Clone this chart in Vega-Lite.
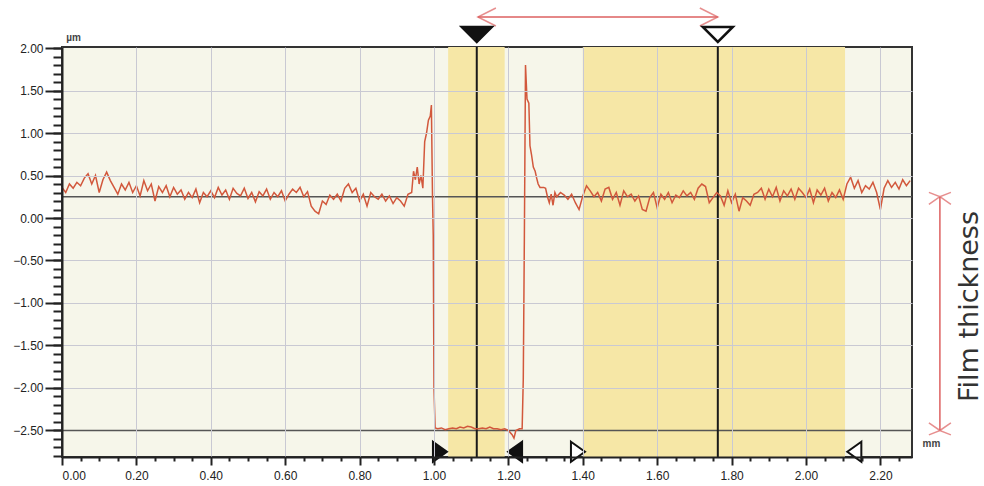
{
  "$schema": "https://vega.github.io/schema/vega-lite/v6.json",
  "width": 850,
  "height": 410,
  "autosize": "none",
  "padding": {"left": 62, "top": 47, "right": 72, "bottom": 29},
  "background": "#ffffff",
  "config": {
    "view": {"fill": "#f6f6ea", "stroke": "#333333", "strokeWidth": 2},
    "axis": {"labelFont": "Liberation Sans Narrow, Liberation Sans", "labelFontSize": 12, "labelColor": "#222222", "titleFont": "Liberation Sans", "domainColor": "#222222", "tickColor": "#222222", "gridColor": "#c9c9d3", "gridWidth": 1}
  },
  "resolve": {"axis": {"x": "independent", "y": "independent"}, "scale": {"shape": "independent"}},
  "layer": [
    {
      "data": {"values": [{"start": 1.038, "end": 1.19}, {"start": 1.4, "end": 2.105}]},
      "mark": {"type": "rect", "fill": "#f6e7a6"},
      "encoding": {
        "x": {"field": "start", "type": "quantitative", "scale": {"domain": [0, 2.285], "nice": false, "zero": false}, "axis": null},
        "x2": {"field": "end"}
      }
    },
    {
      "data": {"values": [{"level": 0.25}, {"level": -2.5}]},
      "mark": {"type": "rule", "color": "#555555", "strokeWidth": 1.5},
      "encoding": {
        "y": {"field": "level", "type": "quantitative", "scale": {"domain": [-2.812, 2.012], "nice": false, "zero": false},
          "axis": {"orient": "left", "values": [-2.8,-2.7,-2.6,-2.5,-2.4,-2.3,-2.2,-2.1,-2.0,-1.9,-1.8,-1.7,-1.6,-1.5,-1.4,-1.3,-1.2,-1.1,-1.0,-0.9,-0.8,-0.7,-0.6,-0.5,-0.4,-0.3,-0.2,-0.1,0,0.1,0.2,0.3,0.4,0.5,0.6,0.7,0.8,0.9,1.0,1.1,1.2,1.3,1.4,1.5,1.6,1.7,1.8,1.9,2.0], "labels": false, "domain": false, "grid": false, "ticks": true, "tickSize": 9, "tickWidth": 2, "title": null, "zindex": 1}}
      }
    },
    {
      "data": {"values": [{"cursor": 1.115}, {"cursor": 1.763}]},
      "mark": {"type": "rule", "color": "#1a1a1a", "strokeWidth": 2},
      "encoding": {
        "x": {"field": "cursor", "type": "quantitative", "scale": {"domain": [0, 2.285], "nice": false, "zero": false},
          "axis": {"orient": "bottom", "values": [0.05,0.1,0.15,0.25,0.3,0.35,0.45,0.5,0.55,0.65,0.7,0.75,0.85,0.9,0.95,1.05,1.1,1.15,1.25,1.3,1.35,1.45,1.5,1.55,1.65,1.7,1.75,1.85,1.9,1.95,2.05,2.1,2.15,2.25], "labels": false, "domain": false, "grid": false, "ticks": true, "tickSize": 4, "tickWidth": 2, "title": null, "zindex": 1}}
      }
    },
    {
      "data": {"values": [
        {"x":0.00,"y":0.36},{"x":0.01,"y":0.30},{"x":0.02,"y":0.40},{"x":0.03,"y":0.35},{"x":0.04,"y":0.42},{"x":0.05,"y":0.38},{"x":0.06,"y":0.47},{"x":0.07,"y":0.52},{"x":0.08,"y":0.40},{"x":0.09,"y":0.50},
        {"x":0.10,"y":0.30},{"x":0.11,"y":0.45},{"x":0.12,"y":0.54},{"x":0.13,"y":0.44},{"x":0.14,"y":0.36},{"x":0.15,"y":0.28},{"x":0.16,"y":0.40},{"x":0.17,"y":0.33},{"x":0.18,"y":0.42},{"x":0.19,"y":0.30},
        {"x":0.20,"y":0.38},{"x":0.21,"y":0.26},{"x":0.22,"y":0.44},{"x":0.23,"y":0.32},{"x":0.24,"y":0.40},{"x":0.25,"y":0.20},{"x":0.26,"y":0.37},{"x":0.27,"y":0.30},{"x":0.28,"y":0.38},{"x":0.29,"y":0.25},
        {"x":0.30,"y":0.36},{"x":0.31,"y":0.28},{"x":0.32,"y":0.33},{"x":0.33,"y":0.22},{"x":0.34,"y":0.30},{"x":0.35,"y":0.24},{"x":0.36,"y":0.34},{"x":0.37,"y":0.18},{"x":0.38,"y":0.30},{"x":0.39,"y":0.25},
        {"x":0.40,"y":0.32},{"x":0.41,"y":0.24},{"x":0.42,"y":0.36},{"x":0.43,"y":0.27},{"x":0.44,"y":0.33},{"x":0.45,"y":0.22},{"x":0.46,"y":0.35},{"x":0.47,"y":0.29},{"x":0.48,"y":0.26},{"x":0.49,"y":0.35},
        {"x":0.50,"y":0.23},{"x":0.51,"y":0.30},{"x":0.52,"y":0.19},{"x":0.53,"y":0.31},{"x":0.54,"y":0.26},{"x":0.55,"y":0.34},{"x":0.56,"y":0.22},{"x":0.57,"y":0.30},{"x":0.58,"y":0.25},{"x":0.59,"y":0.32},
        {"x":0.60,"y":0.20},{"x":0.61,"y":0.28},{"x":0.62,"y":0.34},{"x":0.63,"y":0.30},{"x":0.64,"y":0.36},{"x":0.65,"y":0.25},{"x":0.66,"y":0.31},{"x":0.67,"y":0.14},{"x":0.68,"y":0.08},{"x":0.69,"y":0.05},
        {"x":0.70,"y":0.20},{"x":0.71,"y":0.16},{"x":0.72,"y":0.27},{"x":0.73,"y":0.22},{"x":0.74,"y":0.28},{"x":0.75,"y":0.20},{"x":0.76,"y":0.35},{"x":0.77,"y":0.40},{"x":0.78,"y":0.30},{"x":0.79,"y":0.35},
        {"x":0.80,"y":0.20},{"x":0.81,"y":0.28},{"x":0.82,"y":0.14},{"x":0.83,"y":0.30},{"x":0.84,"y":0.25},{"x":0.85,"y":0.22},{"x":0.86,"y":0.28},{"x":0.87,"y":0.20},{"x":0.88,"y":0.26},{"x":0.89,"y":0.17},
        {"x":0.90,"y":0.24},{"x":0.91,"y":0.20},{"x":0.92,"y":0.14},{"x":0.93,"y":0.28},{"x":0.94,"y":0.30},{"x":0.945,"y":0.55},{"x":0.95,"y":0.45},{"x":0.955,"y":0.60},{"x":0.96,"y":0.40},{"x":0.965,"y":0.50},
        {"x":0.97,"y":0.35},{"x":0.975,"y":0.90},{"x":0.98,"y":1.00},{"x":0.985,"y":1.15},{"x":0.99,"y":1.20},{"x":0.993,"y":1.33},{"x":0.996,"y":0.25},{"x":0.998,"y":-0.2},{"x":1.0,"y":-2.0},{"x":1.003,"y":-2.47},
        {"x":1.01,"y":-2.48},{"x":1.02,"y":-2.47},{"x":1.03,"y":-2.49},{"x":1.04,"y":-2.48},{"x":1.05,"y":-2.47},{"x":1.06,"y":-2.48},{"x":1.07,"y":-2.46},{"x":1.08,"y":-2.47},{"x":1.09,"y":-2.45},{"x":1.10,"y":-2.46},
        {"x":1.11,"y":-2.48},{"x":1.12,"y":-2.48},{"x":1.13,"y":-2.47},{"x":1.14,"y":-2.48},{"x":1.15,"y":-2.46},{"x":1.16,"y":-2.48},{"x":1.17,"y":-2.48},{"x":1.18,"y":-2.49},{"x":1.19,"y":-2.48},{"x":1.20,"y":-2.50},
        {"x":1.21,"y":-2.55},{"x":1.215,"y":-2.59},{"x":1.22,"y":-2.50},{"x":1.23,"y":-2.48},{"x":1.237,"y":-2.48},{"x":1.24,"y":-1.9},{"x":1.243,"y":-0.2},{"x":1.246,"y":1.8},{"x":1.25,"y":1.4},{"x":1.255,"y":1.35},
        {"x":1.258,"y":0.85},{"x":1.262,"y":0.75},{"x":1.267,"y":0.6},{"x":1.272,"y":0.55},{"x":1.276,"y":0.47},{"x":1.28,"y":0.40},{"x":1.285,"y":0.36},{"x":1.295,"y":0.36},{"x":1.30,"y":0.35},{"x":1.305,"y":0.25},
        {"x":1.31,"y":0.18},{"x":1.315,"y":0.28},{"x":1.32,"y":0.15},{"x":1.325,"y":0.30},{"x":1.33,"y":0.25},{"x":1.34,"y":0.30},{"x":1.35,"y":0.27},{"x":1.36,"y":0.22},{"x":1.37,"y":0.28},{"x":1.38,"y":0.18},
        {"x":1.39,"y":0.10},{"x":1.40,"y":0.26},{"x":1.41,"y":0.38},{"x":1.42,"y":0.32},{"x":1.43,"y":0.25},{"x":1.44,"y":0.30},{"x":1.45,"y":0.20},{"x":1.46,"y":0.34},{"x":1.47,"y":0.36},{"x":1.48,"y":0.22},
        {"x":1.49,"y":0.30},{"x":1.50,"y":0.15},{"x":1.51,"y":0.32},{"x":1.52,"y":0.25},{"x":1.53,"y":0.28},{"x":1.54,"y":0.20},{"x":1.55,"y":0.26},{"x":1.56,"y":0.10},{"x":1.57,"y":0.08},{"x":1.58,"y":0.24},
        {"x":1.59,"y":0.30},{"x":1.60,"y":0.12},{"x":1.61,"y":0.28},{"x":1.62,"y":0.22},{"x":1.63,"y":0.30},{"x":1.64,"y":0.18},{"x":1.65,"y":0.27},{"x":1.66,"y":0.24},{"x":1.67,"y":0.32},{"x":1.68,"y":0.26},
        {"x":1.69,"y":0.30},{"x":1.70,"y":0.22},{"x":1.71,"y":0.35},{"x":1.72,"y":0.40},{"x":1.73,"y":0.37},{"x":1.74,"y":0.18},{"x":1.75,"y":0.24},{"x":1.76,"y":0.30},{"x":1.77,"y":0.26},{"x":1.78,"y":0.15},
        {"x":1.79,"y":0.32},{"x":1.80,"y":0.18},{"x":1.81,"y":0.28},{"x":1.82,"y":0.08},{"x":1.83,"y":0.24},{"x":1.84,"y":0.20},{"x":1.85,"y":0.15},{"x":1.86,"y":0.28},{"x":1.87,"y":0.30},{"x":1.88,"y":0.35},
        {"x":1.89,"y":0.22},{"x":1.90,"y":0.34},{"x":1.91,"y":0.25},{"x":1.92,"y":0.36},{"x":1.93,"y":0.20},{"x":1.94,"y":0.32},{"x":1.95,"y":0.26},{"x":1.96,"y":0.34},{"x":1.97,"y":0.22},{"x":1.98,"y":0.35},
        {"x":1.99,"y":0.30},{"x":2.00,"y":0.24},{"x":2.01,"y":0.34},{"x":2.02,"y":0.18},{"x":2.03,"y":0.33},{"x":2.04,"y":0.27},{"x":2.05,"y":0.35},{"x":2.06,"y":0.20},{"x":2.07,"y":0.30},{"x":2.08,"y":0.24},
        {"x":2.09,"y":0.33},{"x":2.10,"y":0.22},{"x":2.11,"y":0.40},{"x":2.12,"y":0.48},{"x":2.13,"y":0.35},{"x":2.14,"y":0.44},{"x":2.15,"y":0.30},{"x":2.16,"y":0.38},{"x":2.17,"y":0.34},{"x":2.18,"y":0.42},
        {"x":2.19,"y":0.30},{"x":2.20,"y":0.10},{"x":2.21,"y":0.35},{"x":2.22,"y":0.44},{"x":2.23,"y":0.36},{"x":2.24,"y":0.42},{"x":2.25,"y":0.34},{"x":2.26,"y":0.45},{"x":2.27,"y":0.38},{"x":2.28,"y":0.44}
      ]},
      "mark": {"type": "line", "color": "#d2583c", "strokeWidth": 1.5, "interpolate": "linear"},
      "encoding": {
        "x": {"field": "x", "type": "quantitative", "scale": {"domain": [0, 2.285], "nice": false, "zero": false},
          "axis": {"orient": "bottom", "values": [0,0.2,0.4,0.6,0.8,1.0,1.2,1.4,1.6,1.8,2.0,2.2], "format": ".2f", "grid": true, "tickSize": 8, "tickWidth": 2, "domainWidth": 2, "labelPadding": 5, "zindex": 1,
            "title": "mm", "titleFontSize": 10, "titleFontWeight": "bold", "titleColor": "#444444", "titleAngle": 0, "titleX": 869, "titleY": -14, "titleAlign": "center", "titleBaseline": "middle"}},
        "y": {"field": "y", "type": "quantitative", "scale": {"domain": [-2.812, 2.012], "nice": false, "zero": false},
          "axis": {"orient": "left", "values": [-2.5,-2.0,-1.5,-1.0,-0.5,0,0.5,1.0,1.5,2.0], "format": ".2f", "grid": false, "tickSize": 17, "tickWidth": 2, "domainWidth": 2, "labelPadding": 2, "zindex": 1,
            "title": "µm", "titleFontSize": 10, "titleFontWeight": "bold", "titleColor": "#444444", "titleAngle": 0, "titleX": 11, "titleY": -10, "titleAlign": "center", "titleBaseline": "middle"}}
      }
    },
    {
      "data": {"values": [{"pos": 2.36, "top": 0.25, "bottom": -2.5}]},
      "mark": {"type": "rule", "color": "#dd6060", "strokeWidth": 1.5, "clip": false},
      "encoding": {
        "x": {"field": "pos", "type": "quantitative", "scale": {"domain": [0, 2.285], "nice": false, "zero": false}, "axis": null},
        "y": {"field": "top", "type": "quantitative", "scale": {"domain": [-2.812, 2.012], "nice": false, "zero": false},
          "axis": {"orient": "right", "labels": false, "ticks": false, "domain": false, "grid": false,
            "title": "Film thickness", "titleFont": "DejaVu Sans", "titleFontSize": 27, "titleFontWeight": "normal", "titleColor": "#333333", "titleAngle": 270, "titleX": 57, "titleY": 259, "titleAlign": "center", "titleBaseline": "middle"}},
        "y2": {"field": "bottom"}
      }
    },
    {
      "data": {"values": [{"pos": 2.36, "level": 0.25, "end": "top"}, {"pos": 2.36, "level": -2.5, "end": "bottom"}]},
      "mark": {"type": "point", "filled": false, "stroke": "#dd6060", "strokeWidth": 1.5, "size": 484, "clip": false},
      "encoding": {
        "x": {"field": "pos", "type": "quantitative", "scale": {"domain": [0, 2.285], "nice": false, "zero": false}, "axis": null},
        "y": {"field": "level", "type": "quantitative", "scale": {"domain": [-2.812, 2.012], "nice": false, "zero": false}, "axis": null},
        "shape": {"field": "end", "type": "nominal", "scale": {"domain": ["top", "bottom"], "range": ["M-1,-0.4L0,0L1,-0.4M-1,0.7L0,0L1,0.7", "M-1,0.4L0,0L1,0.4M-1,-0.7L0,0L1,-0.7"]}, "legend": null}
      }
    },
    {
      "data": {"values": [{"from": 1.118, "to": 1.763, "level": 2.365}]},
      "mark": {"type": "rule", "color": "#dd6060", "strokeWidth": 1.5, "clip": false},
      "encoding": {
        "x": {"field": "from", "type": "quantitative", "scale": {"domain": [0, 2.285], "nice": false, "zero": false}, "axis": null},
        "x2": {"field": "to"},
        "y": {"field": "level", "type": "quantitative", "scale": {"domain": [-2.812, 2.012], "nice": false, "zero": false}, "axis": null}
      }
    },
    {
      "data": {"values": [{"pos": 1.118, "level": 2.365, "end": "left"}, {"pos": 1.763, "level": 2.365, "end": "right"}]},
      "mark": {"type": "point", "filled": false, "stroke": "#dd6060", "strokeWidth": 1.5, "size": 324, "clip": false},
      "encoding": {
        "x": {"field": "pos", "type": "quantitative", "scale": {"domain": [0, 2.285], "nice": false, "zero": false}, "axis": null},
        "y": {"field": "level", "type": "quantitative", "scale": {"domain": [-2.812, 2.012], "nice": false, "zero": false}, "axis": null},
        "shape": {"field": "end", "type": "nominal", "scale": {"domain": ["left", "right"], "range": ["M2,-1L0,0L2,1", "M-2,-1L0,0L-2,1"]}, "legend": null}
      }
    },
    {
      "data": {"values": [{"pos": 1.115, "level": 2.159, "set": "reference"}, {"pos": 1.763, "level": 2.159, "set": "measure"}]},
      "mark": {"type": "point", "filled": true, "stroke": "#111111", "strokeWidth": 2.5, "size": 900, "opacity": 1, "shape": "M-1,-0.5L1,-0.5L0,0.5Z", "clip": false},
      "encoding": {
        "x": {"field": "pos", "type": "quantitative", "scale": {"domain": [0, 2.285], "nice": false, "zero": false}, "axis": null},
        "y": {"field": "level", "type": "quantitative", "scale": {"domain": [-2.812, 2.012], "nice": false, "zero": false},
          "axis": {"orient": "left", "values": [-2.0,-1.5,-1.0,-0.5,0,0.5,1.0,1.5], "labels": false, "ticks": false, "domain": false, "grid": true, "title": null, "zindex": 1}},
        "fill": {"field": "set", "type": "nominal", "scale": {"domain": ["reference", "measure"], "range": ["#111111", "#ffffff"]}, "legend": null}
      }
    },
    {
      "data": {"values": [
        {"pos": 1.016, "level": -2.75, "set": "reference", "dir": "right"},
        {"pos": 1.218, "level": -2.75, "set": "reference", "dir": "left"},
        {"pos": 1.387, "level": -2.75, "set": "measure", "dir": "right"},
        {"pos": 2.13, "level": -2.75, "set": "measure", "dir": "left"}
      ]},
      "mark": {"type": "point", "filled": true, "stroke": "#111111", "strokeWidth": 2, "size": 400, "opacity": 1, "clip": false},
      "encoding": {
        "x": {"field": "pos", "type": "quantitative", "scale": {"domain": [0, 2.285], "nice": false, "zero": false}, "axis": null},
        "y": {"field": "level", "type": "quantitative", "scale": {"domain": [-2.812, 2.012], "nice": false, "zero": false}, "axis": null},
        "shape": {"field": "dir", "type": "nominal", "scale": {"domain": ["right", "left"], "range": ["M-0.7,-1L0.7,0L-0.7,1Z", "M0.7,-1L-0.7,0L0.7,1Z"]}, "legend": null},
        "fill": {"field": "set", "type": "nominal", "scale": {"domain": ["reference", "measure"], "range": ["#111111", "#ffffff"]}, "legend": null}
      }
    }
  ]
}
